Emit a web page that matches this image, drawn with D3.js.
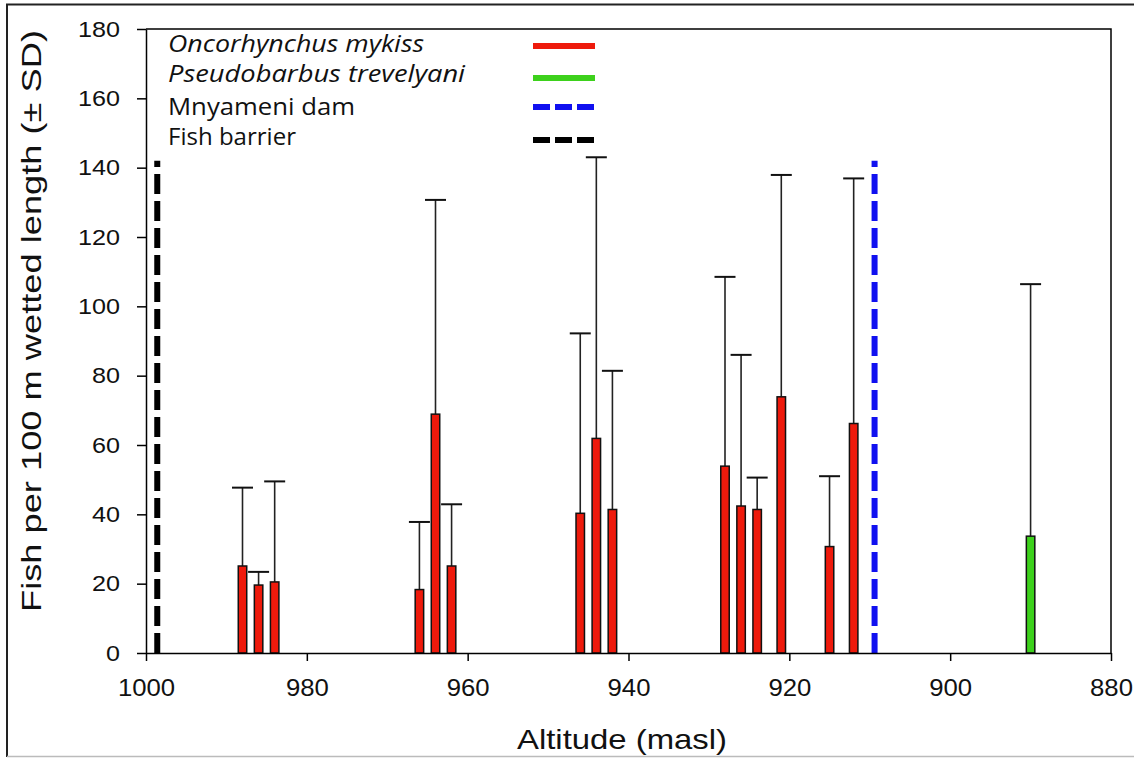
<!DOCTYPE html>
<html lang="en">
<head>
    <meta charset="UTF-8">
    <title>Fish per 100 m wetted length</title>
    <script src="https://cdn.jsdelivr.net/npm/d3@7"></script>
    <style>
        body { margin: 0; background: #fff; }
        .axis path, .axis line { stroke: #000; stroke-width: 1.5px; }
        .axis text { font-family: "Liberation Sans", Arial, sans-serif; fill: #111; }
        .legend text { font-family: "Open Sans", "Noto Sans", sans-serif; font-size: 23px; fill: #111; }
    </style>
</head>
<body>
    <div id="charts"></div>
    <script>
        // data
        const troutAltitude = [988, 986, 984, 966, 964, 962, 946, 944, 942, 928, 926, 924, 921, 915, 912];
        const troutMean = [25.1, 19.6, 20.5, 18.3, 68.9, 25.1, 40.3, 61.9, 41.4, 53.9, 42.4, 41.4, 73.9, 30.7, 66.2];
        const troutSD = [22.6, 3.8, 29.0, 19.5, 61.8, 17.8, 51.9, 81.1, 40.0, 54.6, 43.6, 9.2, 64.0, 20.3, 70.7];
        const redfinAltitude = [890];
        const redfinMean = [33.7];
        const redfinSD = [72.7];
        const damAltitude = 909.4;
        const barrierAltitude = 998.6;
        const lineTop = 142;
        const xTicks = [1000, 980, 960, 940, 920, 900, 880];
        const yTicks = [0, 20, 40, 60, 80, 100, 120, 140, 160, 180];
        const legendLabels = ["Oncorhynchus mykiss", "Pseudobarbus trevelyani", "Mnyameni dam", "Fish barrier"];

        const W = 1134, H = 758;
        const margin = { top: 29, right: 23, bottom: 105, left: 146 };
        const width = W - margin.left - margin.right;
        const height = H - margin.top - margin.bottom;

        const x = d3.scaleLinear().domain([1000, 880]).range([0, width]);
        const y = d3.scaleLinear().domain([0, 180]).range([height, 0]);
        const halfBar = 0.62; // altitude units

        const svgRoot = d3.select("#charts").append("svg")
            .attr("width", W).attr("height", H);

        // outer frame
        svgRoot.append("path")
            .attr("d", "M1134,4.5 H7 V757")
            .attr("fill", "none").attr("stroke", "#222").attr("stroke-width", 2);
        svgRoot.append("line")
            .attr("x1", 7).attr("x2", 1134).attr("y1", 756.5).attr("y2", 756.5)
            .attr("stroke", "#bbb").attr("stroke-width", 1.5);

        const svg = svgRoot.append("g")
            .attr("transform", "translate(" + margin.left + "," + margin.top + ")");

        // plot frame (top/right)
        svg.append("path")
            .attr("d", "M0,0 H" + width + " V" + height)
            .attr("fill", "none").attr("stroke", "#000").attr("stroke-width", 1.5);

        // vertical dashed lines
        svg.append("line")
            .attr("x1", x(barrierAltitude)).attr("x2", x(barrierAltitude))
            .attr("y1", y(0)).attr("y2", y(lineTop))
            .attr("stroke", "#000").attr("stroke-width", 6)
            .attr("stroke-dasharray", "20,7");
        svg.append("line")
            .attr("x1", x(damAltitude)).attr("x2", x(damAltitude))
            .attr("y1", y(0)).attr("y2", y(lineTop))
            .attr("stroke", "#1010f0").attr("stroke-width", 6)
            .attr("stroke-dasharray", "20,7");

        function drawSeries(alts, means, sds, color) {
            const data = alts.map((a, i) => ({ a: a, m: means[i], sd: sds[i] }));
            const g = svg.append("g");
            // error bars (upper only)
            g.selectAll(".stem").data(data).enter().append("line")
                .attr("x1", d => x(d.a)).attr("x2", d => x(d.a))
                .attr("y1", d => y(d.m)).attr("y2", d => y(d.m + d.sd))
                .attr("stroke", "#222").attr("stroke-width", 1.6);
            g.selectAll(".cap").data(data).enter().append("line")
                .attr("x1", d => x(d.a) - 10.5).attr("x2", d => x(d.a) + 10.5)
                .attr("y1", d => y(d.m + d.sd)).attr("y2", d => y(d.m + d.sd))
                .attr("stroke", "#111").attr("stroke-width", 2);
            g.selectAll("rect").data(data).enter().append("rect")
                .attr("x", d => x(d.a + halfBar) + 0.75)
                .attr("width", d => x(d.a - halfBar) - x(d.a + halfBar) - 1.5)
                .attr("y", d => y(d.m))
                .attr("height", d => y(0) - y(d.m))
                .attr("fill", color).attr("stroke", "#111").attr("stroke-width", 1.5);
        }
        drawSeries(troutAltitude, troutMean, troutSD, "#ee1a0c");
        drawSeries(redfinAltitude, redfinMean, redfinSD, "#3dd11c");

        // axes
        const yAxis = svg.append("g").attr("class", "axis")
            .call(d3.axisLeft(y).tickValues(yTicks).tickSize(9).tickPadding(17).tickSizeOuter(0));
        yAxis.selectAll("text")
            .style("font-size", "22px")
            .attr("textLength", d => String(d).length * 14)
            .attr("lengthAdjust", "spacingAndGlyphs");

        const xAxis = svg.append("g").attr("class", "axis")
            .attr("transform", "translate(0," + height + ")")
            .call(d3.axisBottom(x).tickValues(xTicks).tickFormat(d3.format("d"))
                .tickSize(8).tickPadding(19).tickSizeOuter(0));
        xAxis.selectAll("text")
            .style("font-size", "23px")
            .attr("textLength", d => String(d).length * 14.3)
            .attr("lengthAdjust", "spacingAndGlyphs");

        // axis titles
        svgRoot.append("text")
            .attr("x", 517).attr("y", 749)
            .attr("textLength", 210).attr("lengthAdjust", "spacingAndGlyphs")
            .style("font-family", "Liberation Sans, Arial, sans-serif")
            .style("font-size", "28px").style("fill", "#111")
            .text("Altitude (masl)");
        svgRoot.append("text")
            .attr("transform", "translate(41,612) rotate(-90)")
            .attr("textLength", 582).attr("lengthAdjust", "spacingAndGlyphs")
            .style("font-family", "Liberation Sans, Arial, sans-serif")
            .style("font-size", "28px").style("fill", "#111")
            .text("Fish per 100 m wetted length (\u00b1 SD)");

        // legend
        const legendBase = [52, 82, 115, 145];
        const legendLineY = [46, 78, 107, 140];
        const legendWidth = [256, 297, 187, 128];
        const legendStroke = ["#ee1a0c", "#3dd11c", "#1010f0", "#000"];
        const legendDash = [null, null, "17,5", "17,5"];
        const legend = svgRoot.append("g").attr("class", "legend");
        legendLabels.forEach((lab, i) => {
            legend.append("text")
                .attr("x", 168).attr("y", legendBase[i])
                .attr("textLength", legendWidth[i]).attr("lengthAdjust", "spacingAndGlyphs")
                .style("font-style", i < 2 ? "italic" : "normal")
                .text(lab);
            legend.append("line")
                .attr("x1", 533).attr("x2", 595)
                .attr("y1", legendLineY[i]).attr("y2", legendLineY[i])
                .attr("stroke", legendStroke[i]).attr("stroke-width", 6)
                .attr("stroke-dasharray", legendDash[i]);
        });
    </script>
</body>
</html>
